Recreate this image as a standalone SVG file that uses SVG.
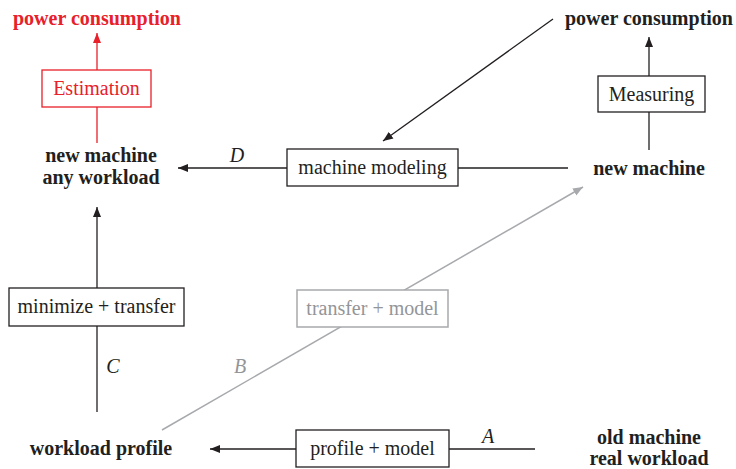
<svg xmlns="http://www.w3.org/2000/svg" width="736" height="469" viewBox="0 0 736 469">
  <defs>
    <marker id="ah" viewBox="0 0 10 10" refX="10" refY="5" markerWidth="10" markerHeight="10" markerUnits="userSpaceOnUse" orient="auto">
      <path d="M0,1 L10,5 L0,9 z" fill="#231f20"/>
    </marker>
    <marker id="ahRed" viewBox="0 0 10 10" refX="10" refY="5" markerWidth="10" markerHeight="10" markerUnits="userSpaceOnUse" orient="auto">
      <path d="M0,1 L10,5 L0,9 z" fill="#e8202a"/>
    </marker>
    <marker id="ahGray" viewBox="0 0 10 10" refX="10" refY="5" markerWidth="10" markerHeight="10" markerUnits="userSpaceOnUse" orient="auto">
      <path d="M0,1 L10,5 L0,9 z" fill="#a7a9ac"/>
    </marker>
  </defs>
  <style>
    text { font-family: "Liberation Serif", "Times New Roman", serif; font-size: 20px; }
    .b { font-weight: bold; fill: #231f20; }
    .r { fill: #231f20; }
    .i { font-style: italic; fill: #231f20; }
    .box { fill: #fff; stroke: #231f20; stroke-width: 1.3; }
    .ln { stroke: #231f20; stroke-width: 1.3; fill: none; }
    .red { fill: #e8202a; }
    .redbox { fill: #fff; stroke: #e8202a; stroke-width: 1.3; }
    .redln { stroke: #e8202a; stroke-width: 1.3; fill: none; }
    .gray { fill: #939598; }
    .graybox { fill: #fff; stroke: #a7a9ac; stroke-width: 1.5; }
    .grayln { stroke: #a7a9ac; stroke-width: 1.5; fill: none; }
  </style>

  <g id="connectors">
    <!-- estimation path (red) -->
    <line class="redln" x1="97" y1="143" x2="97" y2="33" marker-end="url(#ahRed)"/>
    <!-- D: machine modeling to new machine / any workload -->
    <line class="ln" x1="568" y1="168" x2="178" y2="168" marker-end="url(#ah)"/>
    <!-- measured power into machine modeling -->
    <line class="ln" x1="553" y1="19" x2="383" y2="141" marker-end="url(#ah)"/>
    <!-- measuring path -->
    <line class="ln" x1="649" y1="150" x2="649" y2="37" marker-end="url(#ah)"/>
    <!-- B: transfer + model (gray) -->
    <line class="grayln" x1="162" y1="430" x2="583" y2="187" marker-end="url(#ahGray)"/>
    <!-- C: minimize + transfer -->
    <line class="ln" x1="97" y1="412" x2="97" y2="207" marker-end="url(#ah)"/>
    <!-- A: profile + model -->
    <line class="ln" x1="535" y1="449" x2="210" y2="449" marker-end="url(#ah)"/>
    <text class="i" x="237" y="162" text-anchor="middle">D</text>
    <text class="i" x="113" y="373" text-anchor="middle">C</text>
    <text class="i gray" x="240" y="373" text-anchor="middle">B</text>
    <text class="i" x="488" y="443" text-anchor="middle">A</text>
  </g>

  <g id="power-estimated">
    <text class="b red" x="97" y="25" text-anchor="middle" style="fill:#e8202a">power consumption</text>
  </g>
  <g id="estimation">
    <rect class="redbox" x="42" y="70" width="109" height="37"/>
    <text class="red" x="96.5" y="95" text-anchor="middle">Estimation</text>
  </g>
  <g id="new-machine-any-workload">
    <text class="b" x="101" y="162" text-anchor="middle">new machine</text>
    <text class="b" x="101" y="184" text-anchor="middle">any workload</text>
  </g>
  <g id="machine-modeling">
    <rect class="box" x="287" y="149" width="171" height="37"/>
    <text class="r" x="372.5" y="174" text-anchor="middle">machine modeling</text>
  </g>
  <g id="power-measured">
    <text class="b" x="649" y="25" text-anchor="middle">power consumption</text>
  </g>
  <g id="measuring">
    <rect class="box" x="598" y="76" width="107" height="36"/>
    <text class="r" x="651.5" y="101" text-anchor="middle">Measuring</text>
  </g>
  <g id="new-machine">
    <text class="b" x="649" y="175" text-anchor="middle">new machine</text>
  </g>
  <g id="minimize-transfer">
    <rect class="box" x="9" y="288" width="175" height="38"/>
    <text class="r" x="96.5" y="313" text-anchor="middle">minimize + transfer</text>
  </g>
  <g id="transfer-model">
    <rect class="graybox" x="297" y="290" width="151" height="37"/>
    <text class="gray" x="372.5" y="315" text-anchor="middle">transfer + model</text>
  </g>
  <g id="workload-profile">
    <text class="b" x="101" y="455" text-anchor="middle">workload profile</text>
  </g>
  <g id="profile-model">
    <rect class="box" x="296" y="430" width="153" height="37"/>
    <text class="r" x="372.5" y="455" text-anchor="middle">profile + model</text>
  </g>
  <g id="old-machine-real-workload">
    <text class="b" x="649" y="444" text-anchor="middle">old machine</text>
    <text class="b" x="649" y="465" text-anchor="middle">real workload</text>
  </g>
</svg>
